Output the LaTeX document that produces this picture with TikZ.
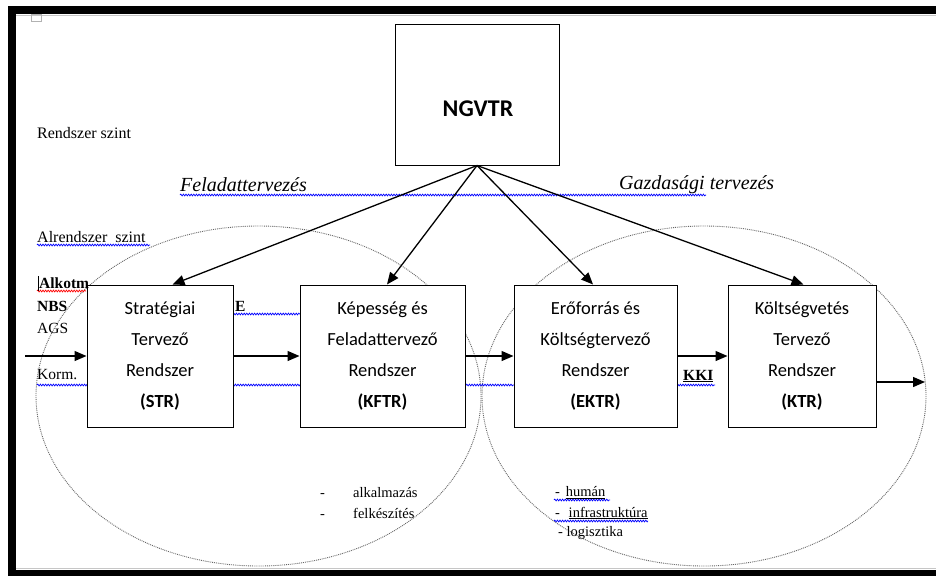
\documentclass[tikz,border=0pt]{standalone}
\usepackage{fontspec}
\setmainfont{Liberation Serif}
\newfontfamily\calfont{Carlito}
\usetikzlibrary{arrows.meta,decorations.pathmorphing,calc}
\tikzset{
  sysbox/.style={draw, line width=1pt, fill=white, inner sep=0pt, align=center,
    font=\calfont\fontsize{18.5}{31}\selectfont},
  arr/.style={line width=1.3pt, -{Triangle[length=12pt,width=10pt]}},
  ell/.style={black!60, densely dotted, line width=0.9pt},
  wavy/.style={blue, line width=0.7pt, decorate,
    decoration={snake, amplitude=0.9pt, segment length=2.6pt}},
  wavyred/.style={wavy, red},
  lbl/.style={anchor=west, inner sep=0pt, font=\fontsize{16}{18}\selectfont},
  sm/.style={anchor=west, inner sep=0pt, font=\fontsize{15.5}{17}\selectfont},
  smb/.style={sm, font=\bfseries\fontsize{15.5}{17}\selectfont},
  lst/.style={anchor=west, inner sep=0pt, font=\fontsize{14.5}{16}\selectfont},
  itl/.style={anchor=west, inner sep=0pt, font=\itshape\fontsize{20}{22}\selectfont}
}
\begin{document}
\begin{tikzpicture}[x=1pt,y=-1pt]
\useasboundingbox (0,0) rectangle (936,576);
\fill[white] (0,0) rectangle (936,576);
% frame
\fill[black] (8,6) rectangle (936,14);
\fill[black] (8,6) rectangle (16,576);
\fill[black] (8,570) rectangle (936,576);
\draw[gray!45, line width=0.8pt] (16,15.2) -- (936,15.2);
\draw[gray!45, line width=0.8pt] (16,568.5) -- (936,568.5);
\draw[gray!60, line width=0.6pt] (31,14) rectangle (41,21);

% ellipses
\draw[ell] (258.5,396) ellipse [x radius=222.5, y radius=170];
\draw[ell] (704,396) ellipse [x radius=222, y radius=170];

% spelling underlines
\draw[wavy] (180,195) -- (706,195);
\draw[wavy] (37,245) -- (150,245);
\draw[wavyred] (37,291) -- (86,291);
\draw[wavy] (233,314) -- (300,314);
\draw[wavy] (37,385) -- (514,385);
\draw[wavy] (677,385) -- (715,385);
\draw[wavy] (554,500) -- (610,500);
\draw[wavy] (554,521) -- (648,521);

% boxes
\node[sysbox, minimum width=164pt, minimum height=141pt] (ngvtr) at (477,94.5) {};
\node[inner sep=0pt, font=\calfont\bfseries\fontsize{24}{26}\selectfont] (ngvtrtxt) at (478,109) {NGVTR};
\node[sysbox, minimum width=146pt, minimum height=142pt] (str) at (160,356)
  {Stratégiai\\Tervező\\Rendszer\\\textbf{(STR)}};
\node[sysbox, minimum width=165pt, minimum height=142pt] (kftr) at (382.5,356)
  {Képesség és\\Feladattervező\\Rendszer\\\textbf{(KFTR)}};
\node[sysbox, minimum width=163pt, minimum height=142pt] (ektr) at (595.5,356)
  {Erőforrás és\\Költségtervező\\Rendszer\\\textbf{(EKTR)}};
\node[sysbox, minimum width=148pt, minimum height=142pt] (ktr) at (802,356)
  {Költségvetés\\Tervező\\Rendszer\\\textbf{(KTR)}};

% arrows from NGVTR
\draw[arr] (ngvtr.south) -- ($(str.north west)!0.585!(str.north east)$);
\draw[arr] (ngvtr.south) -- ($(kftr.north west)!0.527!(kftr.north east)$);
\draw[arr] (ngvtr.south) -- ($(ektr.north west)!0.485!(ektr.north east)$);
\draw[arr] (ngvtr.south) -- ($(ktr.north west)!0.51!(ktr.north east)$);

% flow arrows
\coordinate (in) at (25,356);
\coordinate (out) at (925,382);
\draw[arr] (in) -- (str.west);
\draw[arr] (str.east) -- (kftr.west);
\draw[arr] (kftr.east) -- (ektr.west);
\draw[arr] (ektr.east) -- (ktr.west);
\draw[arr] (ktr.east |- out) -- (out);

% labels
\node[lbl] (rsz) at (37,133) {Rendszer szint};
\node[lbl] (arsz) at (37,237) {Alrendszer\hspace{0.5em}szint};
\node[itl] (fel) at (180,185) {Feladattervezés};
\node[itl] (gaz) at (619,185) {Gazdasági tervezés};
\draw[line width=0.6pt] (38.5,276) -- (38.5,291);
\node[smb] (alk) at (39,283) {Alkotm};
\node[smb] (nbs) at (37,306) {NBS};
\node[sm] (ags) at (37,328) {AGS};
\node[sm] (korm) at (37,375) {Korm.};
\node[smb] (e) at (235,306) {E};
\node[smb] (kki) at (683,376) {\underline{KKI}};

\node[lst] (d1) at (320,493) {-\vphantom{alkalmazás}};
\node[lst] (alkm) at (353,493) {alkalmazás};
\node[lst] (d2) at (320,513) {-\vphantom{felkészítés}};
\node[lst] (felk) at (353,513) {felkészítés};
\node[lst] (hum) at (555,493) {-\hspace{0.4em}\underline{humán}};
\node[lst] (infr) at (555,513) {-\hspace{0.6em}\underline{infrastruktúra}};
\node[lst] (log) at (558,533) {- logisztika};
\end{tikzpicture}
\end{document}
